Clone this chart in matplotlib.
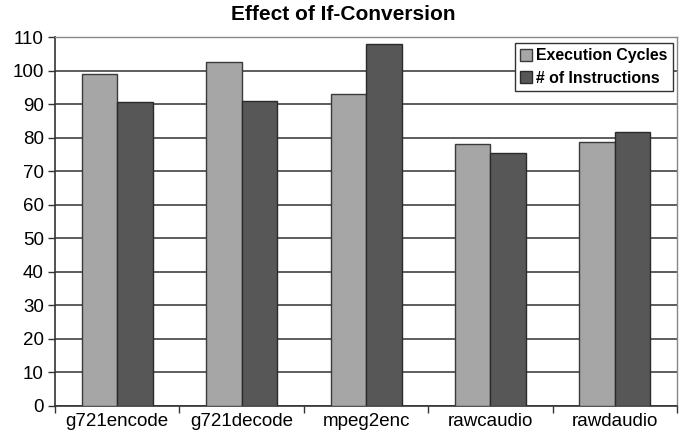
import matplotlib.pyplot as plt
import numpy as np

plt.rcParams['font.family'] = ['Liberation Sans', 'DejaVu Sans']

benchmarks = ["g721encode", "g721decode", "mpeg2enc", "rawcaudio", "rawdaudio"]
exec_cycles = [98.9, 102.6, 93.0, 78.2, 78.8]
num_instr = [90.6, 90.9, 108.0, 75.3, 81.7]

fig = plt.figure(figsize=(6.86, 4.38), dpi=100)
ax = fig.add_axes([0.0802, 0.0731, 0.9068, 0.8424])

x = np.arange(len(benchmarks))
w = 0.285
ax.bar(x - w/2, exec_cycles, w, color='#a6a6a6', edgecolor='#3a3a3a', linewidth=1.0,
       label='Execution Cycles', zorder=3)
ax.bar(x + w/2, num_instr, w, color='#575757', edgecolor='#2a2a2a', linewidth=1.0,
       label='# of Instructions', zorder=3)

ax.set_xlim(-0.5, len(benchmarks) - 0.5)
ax.set_ylim(0, 110)
ax.set_yticks(range(0, 111, 10))
ax.yaxis.grid(True, color='#505050', linewidth=1.3, zorder=0)

# category labels in the middle, tick marks on the boundaries
ax.set_xticks(np.arange(-0.5, len(benchmarks)), minor=False)
ax.set_xticklabels([])
ax.set_xticks(x, minor=True)
ax.set_xticklabels(benchmarks, minor=True, fontsize=13.5)
ax.tick_params(axis='x', which='minor', length=0, pad=5)
ax.tick_params(axis='x', which='major', length=5, width=1, color='#333333', direction='out')
ax.tick_params(axis='y', length=5, width=1, color='#333333', labelsize=13.5, pad=3)

for s in ['left', 'bottom']:
    ax.spines[s].set_color('#333333')
    ax.spines[s].set_linewidth(1.2)
for s in ['top', 'right']:
    ax.spines[s].set_color('#888888')
    ax.spines[s].set_linewidth(1.0)

leg = ax.legend(loc='upper right', bbox_to_anchor=(0.9935, 0.984), frameon=True, fancybox=False,
                edgecolor='#333333', framealpha=1, prop={'weight': 'bold', 'size': 11.4},
                handlelength=0.75, handleheight=0.75, handletextpad=0.25, borderpad=0.35,
                labelspacing=0.45, borderaxespad=0)
leg.get_frame().set_linewidth(1.0)
leg.set_zorder(5)

fig.text(0.5, 0.966, "Effect of If-Conversion", ha='center', va='center',
         fontsize=15, fontweight='bold')

fig.savefig("out.png", dpi=100)
